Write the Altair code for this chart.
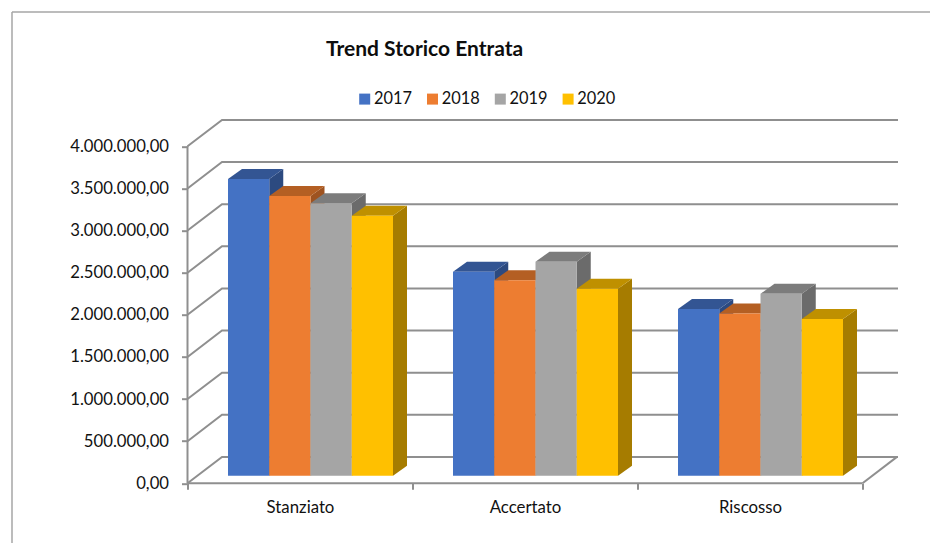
import altair as alt
import pandas as pd

categories = ["Stanziato", "Accertato", "Riscosso"]
years = ["2017", "2018", "2019", "2020"]
values_2017 = [3523000, 2420000, 1980000]
values_2018 = [3320000, 2320000, 1925000]
values_2019 = [3235000, 2540000, 2160000]
values_2020 = [3085000, 2220000, 1860000]
series = [values_2017, values_2018, values_2019, values_2020]
tick_values = [0, 500000, 1000000, 1500000, 2000000, 2500000, 3000000, 3500000, 4000000]
front_colors = ["#4472C4", "#ED7D31", "#A5A5A5", "#FFC000"]
top_colors = ["#335593", "#B45F23", "#7C7C7C", "#BF9000"]
side_colors = ["#2C4A80", "#9E5320", "#6B6B6B", "#A67C00"]

GRID = "#8f8f8f"
FONT = "Lato"
PX_X = 225.0
PX_Y = 337.0 / 4000000
W, H = 710.5, 362.6
X_MAX = W / PX_X
Y_MAX = H / PX_Y
WALL_DX = 34.5 / PX_X
WALL_DY = 26.4 / PX_Y
BAR_LEFT = 40.5 / PX_X
BAR_W = 41.25 / PX_X
BAR_DX = 14 / PX_X
BAR_DY = 10 / PX_Y
BASE = 7.6 / PX_Y

xs = alt.Scale(domain=[0, X_MAX], nice=False, zero=False)
ys = alt.Scale(domain=[0, Y_MAX], nice=False, zero=False)
color = alt.Color(
    "year:N",
    scale=alt.Scale(domain=years, range=front_colors),
    legend=alt.Legend(
        title=None, orient="none", legendX=169, legendY=-30, direction="horizontal",
        symbolType="square", symbolSize=121, symbolStrokeWidth=0, labelFont=FONT,
        labelFontSize=16.4, labelColor="#111111", columnPadding=11.8, labelOffset=1,
    ),
)

grid_rows = []
for v in tick_values:
    grid_rows += [
        dict(v=v, o=0, x=0, y=v),
        dict(v=v, o=1, x=WALL_DX, y=v + WALL_DY),
        dict(v=v, o=2, x=X_MAX, y=v + WALL_DY),
    ]
floor_rows = [dict(o=0, x=3, y=0), dict(o=1, x=3 + WALL_DX, y=WALL_DY)]

layers = []

# frame of the chart area, in pixels relative to the plot
layers.append(
    alt.Chart(pd.DataFrame({"a": [0]})).mark_rule(color="#a6a6a6", strokeWidth=1.5).encode(
        x=alt.value(-175.5), y=alt.value(-108.7), y2=alt.value(434)
    )
)
layers.append(
    alt.Chart(pd.DataFrame({"a": [0]})).mark_rule(color="#a6a6a6", strokeWidth=1.5).encode(
        x=alt.value(-175.5), x2=alt.value(750), y=alt.value(-108.7)
    )
)

common_x = alt.X("x:Q", scale=xs, axis=None)
common_y = alt.Y("y:Q", scale=ys, axis=None)

layers.append(
    alt.Chart(pd.DataFrame(grid_rows)).mark_line(color=GRID, strokeWidth=2, interpolate="linear").encode(
        x=common_x, y=common_y, detail="v:N", order="o:Q"
    )
)
layers.append(
    alt.Chart(pd.DataFrame(floor_rows)).mark_line(color=GRID, strokeWidth=2).encode(
        x=common_x, y=common_y, order="o:Q"
    )
)
# front axis lines
layers.append(
    alt.Chart(pd.DataFrame({"x": [0], "y": [0], "y2": [tick_values[-1]]})).mark_rule(color=GRID, strokeWidth=2).encode(
        x=common_x, y=alt.Y("y:Q", scale=ys, axis=alt.Axis(
            orient="left",
            values=tick_values, domain=False, grid=False, tickColor=GRID, tickWidth=2, tickSize=6,
            labelPadding=13, title=None, labelFont=FONT, labelFontSize=16.7, labelColor="#111111",
            labelExpr="replace(replace(replace(format(datum.value,',.2f'),/,/g,'X'),/[.]/g,','),/X/g,'.')",
        )), y2="y2:Q"
    )
)
labels_expr = "[" + ",".join("'%s'" % c for c in categories) + "][floor(datum.value)]"
layers.append(
    alt.Chart(pd.DataFrame({"x": [0], "x2": [3], "y": [0]})).mark_rule(color=GRID, strokeWidth=2).encode(
        x=alt.X("x:Q", scale=xs, axis=alt.Axis(
            orient="bottom",
            values=[0, 1, 2, 3], domain=False, grid=False, labels=False, tickColor=GRID,
            tickWidth=2, tickSize=6, title=None,
        )), x2="x2:Q", y=common_y
    )
)
layers.append(
    alt.Chart(pd.DataFrame({"x": [0.5], "y": [0]})).mark_point(opacity=0).encode(
        x=alt.X("x:Q", scale=xs, axis=alt.Axis(
            orient="bottom",
            values=[0.5, 1.5, 2.5], domain=False, grid=False, ticks=False, labelExpr=labels_expr,
            labelPadding=16, labelFont=FONT, labelFontSize=16.8, labelColor="#111111", title=None,
        )), y=common_y
    )
)

for i, year in enumerate(years):
    side, top, front = [], [], []
    for g, cat in enumerate(categories):
        x0 = g + BAR_LEFT + i * BAR_W
        x1 = x0 + BAR_W
        v = series[i][g] + BASE
        side += [
            dict(bar=cat, x=x1, y=v, y2=BASE),
            dict(bar=cat, x=x1 + BAR_DX, y=v + BAR_DY, y2=BASE + BAR_DY),
        ]
        top += [
            dict(bar=cat, x=x0, x2=x1, y=v),
            dict(bar=cat, x=x0 + BAR_DX, x2=x1 + BAR_DX, y=v + BAR_DY),
        ]
        front.append(dict(year=year, x=x0, x2=x1, y=v, y2=BASE))
    layers.append(
        alt.Chart(pd.DataFrame(side)).mark_area(color=side_colors[i], interpolate="linear").encode(
            x=common_x, y=common_y, y2="y2:Q", detail="bar:N"
        )
    )
    layers.append(
        alt.Chart(pd.DataFrame(top)).mark_area(color=top_colors[i], orient="horizontal", interpolate="linear").encode(
            x=common_x, x2="x2:Q", y=common_y, detail="bar:N"
        )
    )
    layers.append(
        alt.Chart(pd.DataFrame(front)).mark_bar().encode(
            x=common_x, x2="x2:Q", y=common_y, y2="y2:Q", color=color
        )
    )

chart = (
    alt.layer(*layers)
    .resolve_axis(x="independent", y="independent")
    .properties(
        width=W, height=H,
        autosize="none",
        padding={"left": 179.5, "top": 112.7, "right": 32, "bottom": 59.7},
        view=alt.ViewConfig(stroke="transparent", strokeWidth=0),
        title=alt.TitleParams(
            "Trend Storico Entrata", anchor="start", frame="group", dx=138.5, dy=49, offset=0,
            font=FONT, fontSize=21, fontWeight="bold", color="#0d0d0d",
        ),
    )
    .configure_view(stroke="transparent", strokeWidth=0)
    .configure(background="white")
)
chart.save("out.html", embed_options={"renderer": "svg", "actions": False})
